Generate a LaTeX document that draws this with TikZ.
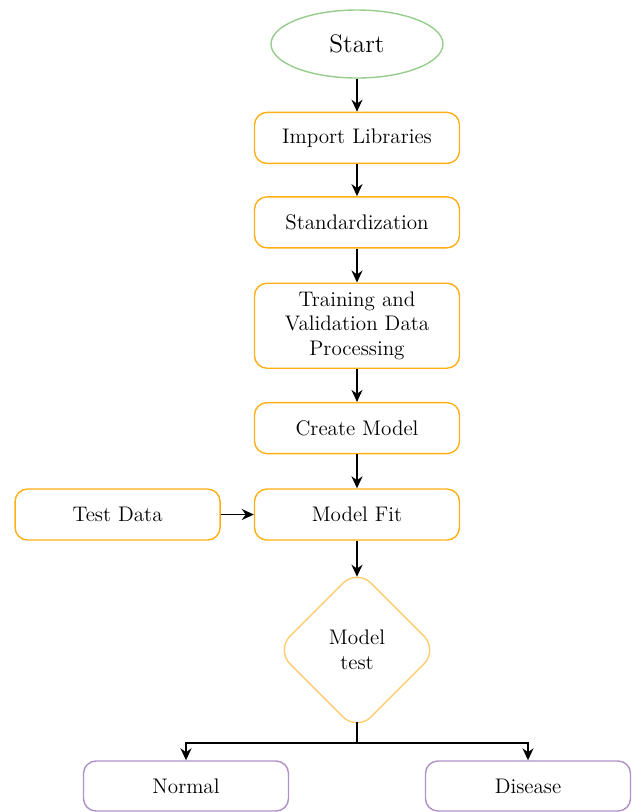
\documentclass[tikz,border=0pt]{standalone}
\usepackage[svgnames]{xcolor}
\usetikzlibrary{positioning,shapes.geometric,arrows.meta}

\definecolor{startgreen}{RGB}{150,205,140}
\definecolor{procorange}{RGB}{255,175,20}
\definecolor{testorange}{RGB}{255,205,110}
\definecolor{outpurple}{RGB}{175,145,200}

\tikzset{
	startnode/.style={ellipse,draw=startgreen,thick,minimum width=3.44cm,minimum height=1.36cm,font=\Large},
	procbox/.style={rectangle,rounded corners=2.5mm,draw=procorange,thick,minimum width=4.1cm,minimum height=1.02cm,text width=3.2cm,align=center,font=\large},
	testnode/.style={diamond,rounded corners=4mm,draw=testorange,thick,minimum width=3.25cm,minimum height=3.25cm,align=center,font=\large},
	outbox/.style={rectangle,rounded corners=2.5mm,draw=outpurple,thick,minimum width=4.1cm,minimum height=1.0cm,align=center,font=\large},
	arr/.style={-{Stealth[length=2.4mm,width=2.2mm]},line width=1pt}
}

\begin{document}
\begin{tikzpicture}
	\useasboundingbox (0,0) rectangle (12.7,-16.24);
	% main column
	\node[startnode] (start) at (7.14,-0.88) {Start};
	\node[procbox,below=0.66cm of start] (libs) {Import Libraries};
	\node[procbox,below=0.64cm of libs] (std) {Standardization};
	\node[procbox,below=0.68cm of std,minimum height=1.7cm] (prep) {Training and Validation Data Processing};
	\node[procbox,below=0.66cm of prep] (create) {Create Model};
	\node[procbox,below=0.68cm of create] (fit) {Model Fit};
	\node[procbox,left=0.66cm of fit] (data) {Test Data};
	\node[testnode] (test) at (7.14,-13.0) {Model\\test};
	% outputs
	\node[outbox] (normal) at (3.72,-15.72) {Normal};
	\node[outbox] (disease) at (10.56,-15.72) {Disease};
	\coordinate (split) at (7.14,-14.86);

	\foreach \A/\B in {start/libs,libs/std,std/prep,prep/create,create/fit,data/fit}
		\draw[arr] (\A) -- (\B);
	\draw[arr] (fit.south) -- ++(0,-0.72);
	\draw[line width=1pt] ([yshift=0.2cm]test.south) -- (split);
	\draw[arr] (split) -| (normal);
	\draw[arr] (split) -| (disease);
\end{tikzpicture}
\end{document}
